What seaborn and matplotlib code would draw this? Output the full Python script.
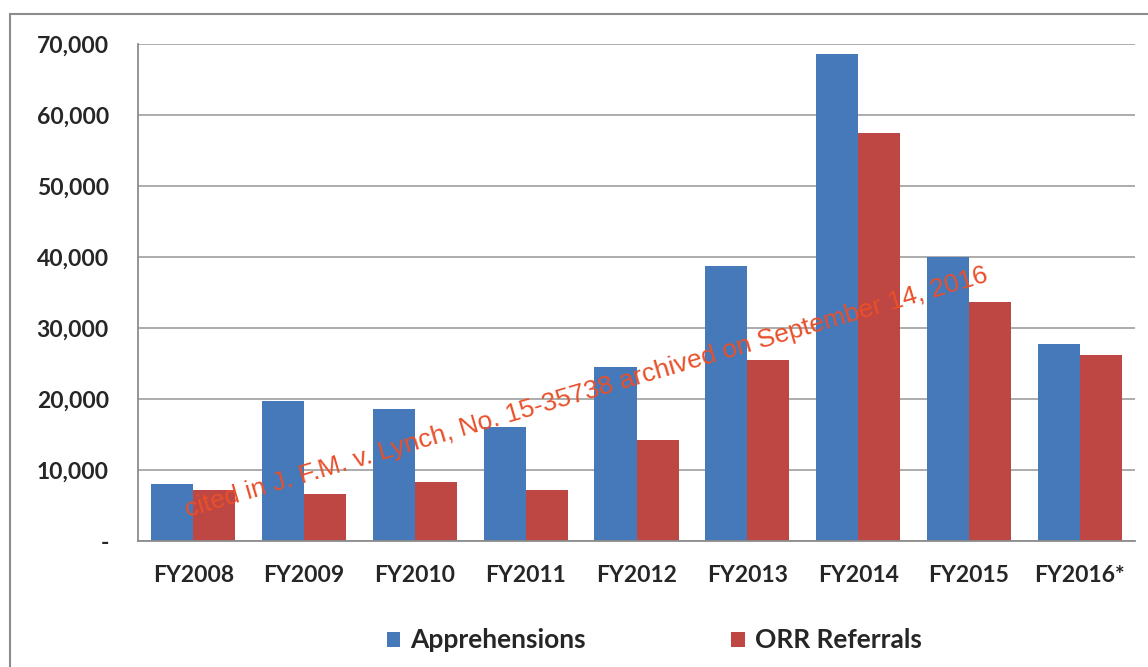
#import libraries
import pandas as pd
import numpy as np
import seaborn as sns
import matplotlib.pyplot as plt
from matplotlib.patches import Rectangle
from matplotlib.ticker import FuncFormatter, MultipleLocator

#chart values
years = ["FY2008", "FY2009", "FY2010", "FY2011", "FY2012",
         "FY2013", "FY2014", "FY2015", "FY2016*"]
apprehensions = [8041, 19668, 18634, 16056, 24481, 38759, 68541, 39970, 27754]
orr_referrals = [7211, 6639, 8302, 7120, 14200, 25500, 57496, 33726, 26200]
series = ["Apprehensions", "ORR Referrals"]
colors = ["#4579BA", "#BE4643"]

#long table for seaborn
df = pd.DataFrame({
    "year": years * 2,
    "count": apprehensions + orr_referrals,
    "series": [series[0]] * len(years) + [series[1]] * len(years),
})

sns.set_style("white")
plt.rcParams['font.family'] = ['Lato', 'DejaVu Sans']

fig = plt.figure(figsize=(11.48, 6.67), dpi=100)
ax = fig.add_axes([0.1202, 0.1889, 0.8685, 0.7451])

sns.barplot(data=df, x="year", y="count", hue="series", order=years,
            hue_order=series, palette=colors, width=0.76, gap=0,
            saturation=1, edgecolor="none", ax=ax, legend=True)

#y axis
ax.set_ylim(0, 70000)
ax.yaxis.set_major_locator(MultipleLocator(10000))
ax.yaxis.set_major_formatter(FuncFormatter(lambda v, p: "-" if v == 0 else f"{int(v):,}"))
ax.grid(axis="y", color="#a6a6a6", linewidth=1.3)
ax.set_axisbelow(True)

#x axis with ticks between the groups
ax.set_xlim(-0.5, len(years) - 0.5)
ax.set_xticks(np.arange(-0.5, len(years)), minor=True)
ax.tick_params(axis="x", which="major", length=0, pad=17)
ax.tick_params(axis="x", which="minor", length=7, width=1.3, color="#8c8c8c")
ax.tick_params(axis="y", length=7, width=1.3, color="#8c8c8c", pad=14)
for lab in ax.get_xticklabels() + ax.get_yticklabels():
    lab.set_fontsize(16.5)
    lab.set_fontweight("bold")

for side in ["top", "right"]:
    ax.spines[side].set_visible(False)
for side in ["left", "bottom"]:
    ax.spines[side].set_color("#8c8c8c")
    ax.spines[side].set_linewidth(1.3)
ax.set_xlabel("")
ax.set_ylabel("")

#legend under the chart
handles, labels = ax.get_legend_handles_labels()
ax.legend(handles, labels, loc="center", bbox_to_anchor=(0.518, -0.2),
          ncol=2, frameon=False, handlelength=0.5, handleheight=0.5,
          handletextpad=0.4, columnspacing=5.5,
          prop={"family": "Lato", "weight": "bold", "size": 19})

#outer chart border (cut off at the bottom and right)
fig.patches.append(Rectangle((10 / 1148, -0.05), 1.1, 1.05 - 14 / 667,
                             transform=fig.transFigure, fill=False,
                             edgecolor="#8c8c8c", linewidth=1.5))

#archive stamp across the bars
fig.text(0.511, 0.411, "cited in J. F.M. v. Lynch, No. 15-35738 archived on September 14, 2016",
         rotation=16.4, ha="center", va="center", color="#E8502A",
         fontsize=19, family="Liberation Sans", rotation_mode="anchor")

plt.savefig("out.png", dpi=100)
